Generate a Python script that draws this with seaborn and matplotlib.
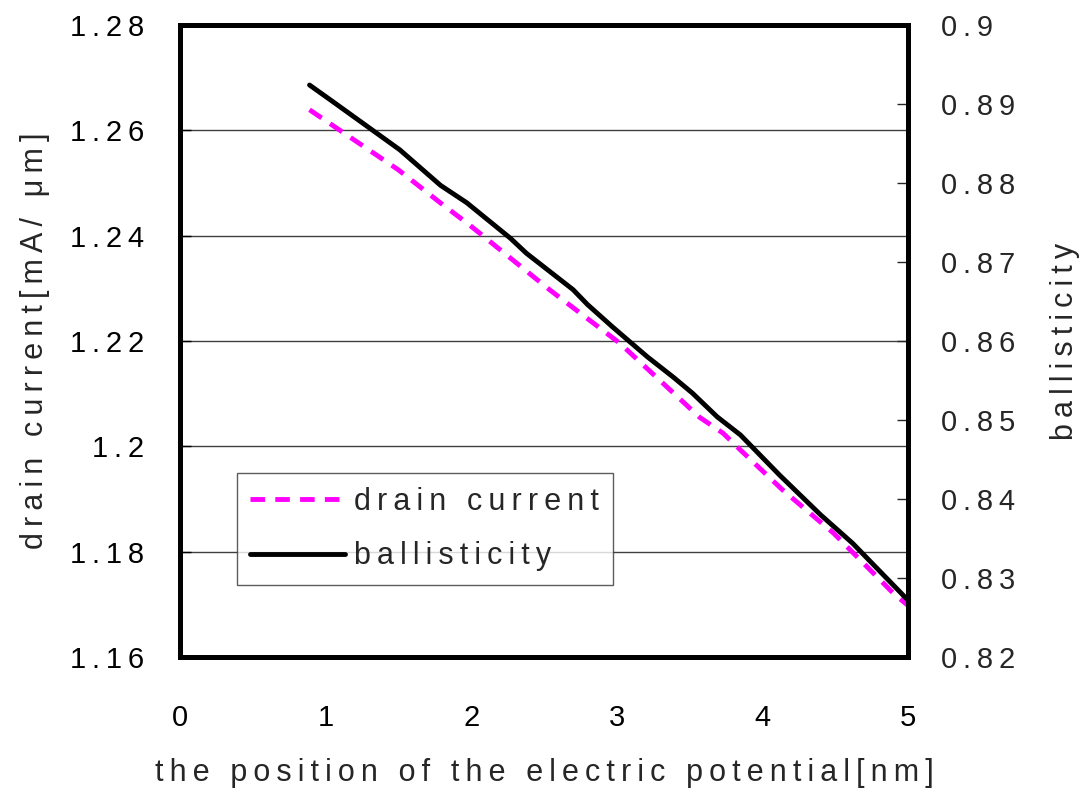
import matplotlib
matplotlib.use('Agg')
import matplotlib.pyplot as plt
import seaborn as sns
import pandas as pd
from matplotlib.ticker import FuncFormatter, MultipleLocator

# values
pos_current = [0.89, 1.5, 1.79, 1.99, 2.54, 3.02, 3.57, 3.73, 3.85, 4.14, 4.49, 4.9, 5.0]
drain_current = [1.2639, 1.2525, 1.2462, 1.2420, 1.2297, 1.2196, 1.2055, 1.2025, 1.1993,
                 1.1917, 1.1835, 1.1721, 1.1698]

pos_ball = [0.89, 1.05, 1.51, 1.79, 1.97, 2.27, 2.38, 2.70, 2.80, 2.97, 3.21, 3.39, 3.52,
            3.69, 3.85, 4.12, 4.40, 4.62, 5.0]
ballisticity = [0.8924, 0.8903, 0.8842, 0.8797, 0.8775, 0.8730, 0.8711, 0.8665, 0.8646,
                0.8618, 0.8580, 0.8554, 0.8534, 0.8504, 0.8481, 0.8430, 0.8380, 0.8344, 0.8272]

df_cur = pd.DataFrame({'pos': pos_current, 'val': drain_current})
df_bal = pd.DataFrame({'pos': pos_ball, 'val': ballisticity})

sns.set_style('white')
plt.rcParams['font.family'] = ['Liberation Sans', 'DejaVu Sans']
plt.rcParams['font.size'] = 22

SP = '\u2009'


def spaced(s):
    # the original text is letter-spaced (Excel style)
    return SP.join(s)


fig = plt.figure(figsize=(10.86, 8.01), dpi=100)
ax = fig.add_axes([0.1657, 0.1798, 0.6703, 0.789])
ax2 = ax.twinx()

sns.lineplot(data=df_cur, x='pos', y='val', ax=ax, color='#ff00ff', lw=3.5,
             label=spaced('drain current'))
ax.lines[0].set_dashes((3.0, 2.1))
sns.lineplot(data=df_bal, x='pos', y='val', ax=ax2, color='black', lw=3.5,
             label=spaced('ballisticity'))
ax2.lines[0].set_solid_capstyle('round')

ax.set_xlim(0, 5)
ax.set_ylim(1.16, 1.28)
ax2.set_ylim(0.82, 0.90)
ax.yaxis.set_major_locator(MultipleLocator(0.02))
ax2.yaxis.set_major_locator(MultipleLocator(0.01))
ax.xaxis.set_major_locator(MultipleLocator(1))
fmt = FuncFormatter(lambda v, p: spaced(f'{v:.2f}'.rstrip('0').rstrip('.')))
ax.yaxis.set_major_formatter(fmt)
ax2.yaxis.set_major_formatter(fmt)

ax.grid(axis='y', color='#404040', lw=1)
ax.set_axisbelow(True)
for a in (ax, ax2):
    for s in a.spines.values():
        s.set_linewidth(3.5)
        s.set_color('black')
ax.tick_params(axis='y', direction='in', length=8, width=1, labelsize=21, pad=26, colors='black')
ax.tick_params(axis='x', direction='in', length=8, width=1, labelsize=21, pad=34, colors='black')
ax2.tick_params(axis='y', direction='in', length=8, width=1, labelsize=21, pad=24)

ax.set_xlabel(spaced('the position of the electric potential[nm]'), fontsize=22)
ax.set_ylabel(spaced('drain current[mA/ μm]'), fontsize=22)
ax2.set_ylabel(spaced('ballisticity'), fontsize=22)
ax.xaxis.set_label_coords(0.5, (657 - 773) / 632, transform=ax.transAxes)
ax.yaxis.set_label_coords((35 - 180) / 728, 0.5)
ax2.yaxis.set_label_coords((1065 - 180) / 728, 0.5)
ax.xaxis.label.set_va('center')
ax.yaxis.label.set_va('center')
ax2.yaxis.label.set_va('center')

h1, l1 = ax.get_legend_handles_labels()
h2, l2 = ax2.get_legend_handles_labels()
ax2.get_legend().remove()
ax.get_legend().remove()
leg = ax.legend(h1 + h2, l1 + l2, loc='upper left', bbox_to_anchor=(0.078, 0.291),
                fontsize=22, frameon=True, fancybox=False, edgecolor='#333333',
                handlelength=3.1, handletextpad=0.3, borderpad=0.45, labelspacing=0.8,
                borderaxespad=0)
leg.get_frame().set_linewidth(1)

fig.savefig('out.png', dpi=100)
